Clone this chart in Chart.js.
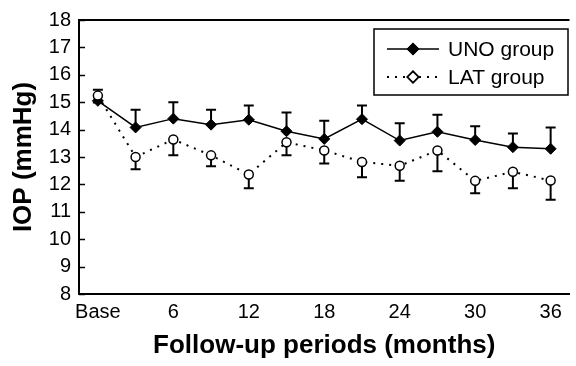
<!DOCTYPE html>
<html>
<head>
<meta charset="utf-8">
<script src="https://cdn.jsdelivr.net/npm/chart.js@4"></script>
<style>
  html, body { margin: 0; padding: 0; background: #fff; }
  #wrap { width: 576px; height: 366px; }
</style>
</head>
<body>
<div id="wrap"><canvas id="chart" width="576" height="366"></canvas></div>
<script>
// Follow-up months (tick labels shown every 6 months)
const months = ['Base', '3', '6', '9', '12', '15', '18', '21', '24', '27', '30', '33', '36'];

// Mean IOP and error (SD/SE) per group
const unoMean = [15.05, 14.08, 14.4, 14.18, 14.36, 13.94, 13.66, 14.38, 13.6, 13.92, 13.62, 13.36, 13.3];
const unoErr  = [0.4, 0.64, 0.6, 0.54, 0.52, 0.68, 0.66, 0.5, 0.63, 0.62, 0.5, 0.5, 0.78];
const latMean = [15.24, 13.0, 13.64, 13.06, 12.36, 13.54, 13.24, 12.82, 12.68, 13.24, 12.13, 12.46, 12.14];
const latErr  = [0.25, 0.45, 0.58, 0.4, 0.5, 0.48, 0.48, 0.56, 0.55, 0.76, 0.45, 0.6, 0.7];

const yTicks = [8, 9, 10, 11, 12, 13, 14, 15, 16, 17, 18];

const FONT = '"Liberation Sans", Arial, sans-serif';

// error bars: UNO drawn upward, LAT downward
const errorBars = {
  id: 'errorBars',
  beforeDatasetsDraw(chart) {
    const { ctx, scales: { x, y } } = chart;
    const sets = [
      { mean: unoMean, err: unoErr, dir: 1 },
      { mean: latMean, err: latErr, dir: -1 }
    ];
    ctx.save();
    ctx.strokeStyle = '#000';
    ctx.lineWidth = 2;
    sets.forEach(s => {
      s.mean.forEach((m, i) => {
        const px = x.getPixelForValue(i);
        const y0 = y.getPixelForValue(m);
        const y1 = y.getPixelForValue(m + s.dir * s.err[i]);
        ctx.beginPath();
        ctx.moveTo(px, y0);
        ctx.lineTo(px, y1);
        ctx.moveTo(px - 5, y1);
        ctx.lineTo(px + 5, y1);
        ctx.stroke();
      });
    });
    ctx.restore();
  }
};

// frame top line, inward y ticks and boxed legend
const frame = {
  id: 'frame',
  afterDraw(chart) {
    const { ctx, chartArea: a, scales: { y } } = chart;
    ctx.save();
    ctx.strokeStyle = '#000';
    ctx.lineWidth = 2;
    ctx.beginPath();
    ctx.moveTo(a.left, a.top);
    ctx.lineTo(a.right, a.top);
    ctx.stroke();

    ctx.lineWidth = 1.5;
    yTicks.forEach(v => {
      const py = Math.round(y.getPixelForValue(v)) + 0.5;
      ctx.beginPath();
      ctx.moveTo(a.left, py);
      ctx.lineTo(a.left + 6, py);
      ctx.stroke();
    });

    // legend
    const bx = 374, by = 29, bw = 194, bh = 66;
    ctx.fillStyle = '#fff';
    ctx.fillRect(bx, by, bw, bh);
    ctx.lineWidth = 1.5;
    ctx.strokeRect(bx, by, bw, bh);
    const rows = [
      { label: chart.data.datasets[0].label, ds: chart.data.datasets[0], y: by + 20 },
      { label: chart.data.datasets[1].label, ds: chart.data.datasets[1], y: by + 48 }
    ];
    rows.forEach(r => {
      ctx.beginPath();
      ctx.lineWidth = r.ds.borderWidth;
      ctx.setLineDash(r.ds.borderDash || []);
      ctx.moveTo(387, r.y);
      ctx.lineTo(439, r.y);
      ctx.stroke();
      ctx.setLineDash([]);
      Chart.helpers.drawPoint(ctx, {
        pointStyle: 'rectRot',
        radius: 5.5,
        borderWidth: r.ds.pointBorderWidth
      }, 413, r.y);
      ctx.fillStyle = r.ds.pointBackgroundColor;
      ctx.strokeStyle = '#000';
      ctx.lineWidth = r.ds.pointBorderWidth;
      ctx.fill();
      ctx.stroke();
      ctx.fillStyle = '#000';
      ctx.font = '21px ' + FONT;
      ctx.textBaseline = 'middle';
      ctx.textAlign = 'left';
      ctx.fillText(r.label, 448, r.y + 1);
    });
    ctx.restore();
  }
};

const ctx = document.getElementById('chart').getContext('2d');
const chart = new Chart(ctx, {
  type: 'line',
  data: {
    labels: months,
    datasets: [{
      label: 'UNO group',
      data: unoMean,
      borderColor: '#000',
      borderWidth: 1.5,
      pointStyle: 'rectRot',
      pointRadius: 5.5,
      pointBackgroundColor: '#000',
      pointBorderColor: '#000',
      pointBorderWidth: 1,
      tension: 0,
      order: 1
    }, {
      label: 'LAT group',
      data: latMean,
      borderColor: '#000',
      borderWidth: 2,
      borderDash: [2, 6],
      pointStyle: 'circle',
      pointRadius: 4.5,
      pointBackgroundColor: '#fff',
      pointBorderColor: '#000',
      pointBorderWidth: 1.5,
      tension: 0,
      order: 0
    }]
  },
  options: {
    responsive: false,
    animation: false,
    layout: { padding: { top: 16, right: 0, left: 0, bottom: 0 } },
    plugins: { legend: { display: false }, tooltip: { enabled: false } },
    scales: {
      x: {
        type: 'category',
        offset: true,
        grid: { display: false, drawTicks: false },
        border: { display: true, color: '#000', width: 2 },
        ticks: {
          color: '#000',
          font: { family: FONT, size: 20 },
          padding: 6,
          autoSkip: false,
          maxRotation: 0,
          minRotation: 0,
          callback: (v, i) => (i % 2 === 0 ? months[i] : '')
        },
        title: {
          display: true,
          text: 'Follow-up periods (months)',
          color: '#000',
          font: { family: FONT, size: 26, weight: 'bold' },
          padding: { top: 0, bottom: 5 }
        },
        afterFit: s => { s.height = 72; }
      },
      y: {
        min: 8,
        max: 18,
        grid: { display: false, drawTicks: false },
        border: { display: true, color: '#000', width: 2 },
        afterBuildTicks: s => { s.ticks = yTicks.map(v => ({ value: v })); },
        ticks: {
          color: '#000',
          font: { family: FONT, size: 20 },
          padding: 8
        },
        title: {
          display: true,
          text: 'IOP (mmHg)',
          color: '#000',
          font: { family: FONT, size: 26, weight: 'bold' },
          padding: { top: 8, bottom: 0 }
        },
        afterFit: s => { s.width = 79; }
      }
    }
  },
  plugins: [errorBars, frame]
});
</script>
</body>
</html>
